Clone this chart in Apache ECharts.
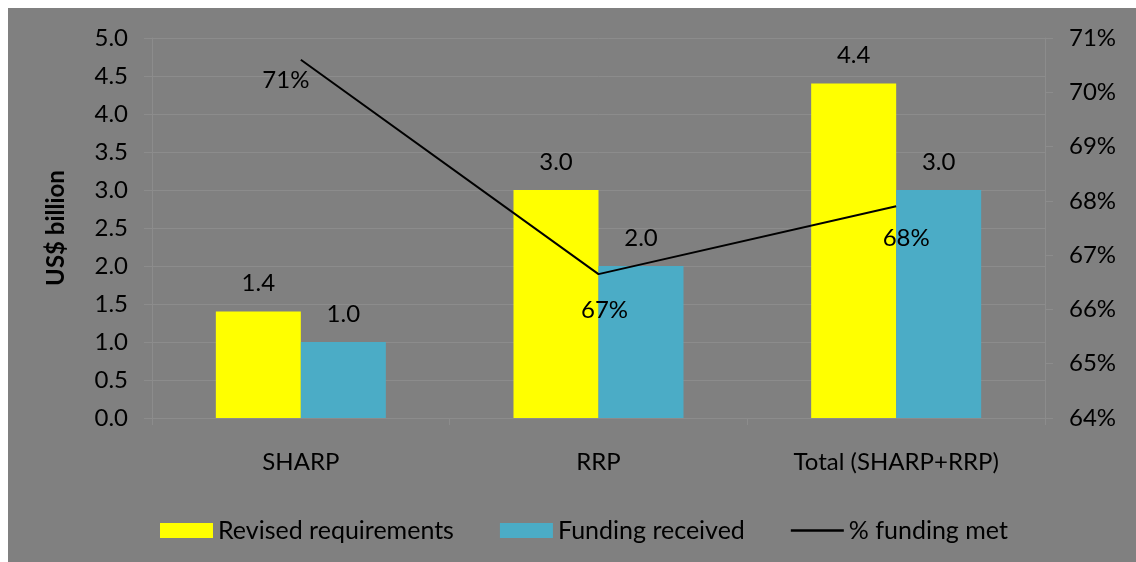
<!DOCTYPE html>
<html>
<head>
<meta charset="utf-8">
<script src="https://cdn.jsdelivr.net/npm/echarts@6/dist/echarts.min.js"></script>
<style>
  html, body { margin: 0; padding: 0; background: #ffffff; }
  #chart { position: absolute; left: 8px; top: 8px; width: 1128px; height: 554px; }
</style>
</head>
<body>
<div id="chart"></div>
<script>
// categories and values
const categories = ["SHARP", "RRP", "Total (SHARP+RRP)"];
const revisedRequirements = [1.4, 3.0, 4.4];
const fundingReceived = [1.0, 2.0, 3.0];
const fundingMetPct = [70.6, 66.65, 67.9];
const fundingMetLabels = ["71%", "67%", "68%"];
// where Excel put the % labels relative to each point
const pctLabelOffsets = [[-15, 21], [6, 36], [10, 32]];

const FONT = "Lato";
const FS = 24;
const gridColor = "#8c8c8c";

const chart = echarts.init(document.getElementById("chart"));

const option = {
  backgroundColor: "#808080",
  textStyle: { fontFamily: FONT, color: "#000" },
  grid: { left: 144, right: 91, top: 30, bottom: 144 },
  legend: {
    left: 147,
    top: 505,
    itemWidth: 53,
    itemHeight: 15,
    itemGap: 46,
    textStyle: { fontFamily: FONT, fontSize: 25, color: "#000" },
    data: [
      { name: "Revised requirements", icon: "rect" },
      { name: "Funding received", icon: "rect" },
      { name: "% funding met", icon: "path://M0,0 L53,0 L53,2.5 L0,2.5 Z", itemStyle: { color: "#000" } },
    ],
  },
  xAxis: {
    type: "category",
    data: categories,
    axisLine: { lineStyle: { color: gridColor } },
    axisTick: { show: true, length: 7, lineStyle: { color: gridColor } },
    axisLabel: { fontFamily: FONT, fontSize: FS, color: "#000", margin: 32 },
  },
  yAxis: [
    {
      type: "value",
      min: 0,
      max: 5,
      interval: 0.5,
      name: "US$ billion",
      nameLocation: "middle",
      nameGap: 84,
      nameTextStyle: { fontFamily: FONT, fontSize: FS, fontWeight: "bold", color: "#000" },
      axisLine: { show: true, lineStyle: { color: gridColor } },
      axisTick: { show: true, length: 8, lineStyle: { color: gridColor } },
      splitLine: { lineStyle: { color: gridColor, width: 1 } },
      axisLabel: {
        fontFamily: FONT,
        fontSize: FS,
        color: "#000",
        margin: 24,
        formatter: (v) => v.toFixed(1),
      },
    },
    {
      type: "value",
      min: 64,
      max: 71,
      interval: 1,
      position: "right",
      axisLine: { show: true, lineStyle: { color: gridColor } },
      axisTick: { show: true, length: 8, lineStyle: { color: gridColor } },
      splitLine: { show: false },
      axisLabel: {
        fontFamily: FONT,
        fontSize: FS,
        color: "#000",
        margin: 24,
        formatter: "{value}%",
      },
    },
  ],
  series: [
    {
      name: "Revised requirements",
      type: "bar",
      data: revisedRequirements,
      barWidth: 85,
      barGap: "0%",
      itemStyle: { color: "#ffff00" },
      label: {
        show: true,
        position: "top",
        distance: 16,
        fontFamily: FONT,
        fontSize: FS,
        color: "#000",
        formatter: (p) => p.value.toFixed(1),
      },
    },
    {
      name: "Funding received",
      type: "bar",
      data: fundingReceived,
      barWidth: 85,
      barGap: "0%",
      itemStyle: { color: "#4bacc6" },
      label: {
        show: true,
        position: "top",
        distance: 16,
        fontFamily: FONT,
        fontSize: FS,
        color: "#000",
        formatter: (p) => p.value.toFixed(1),
      },
    },
    {
      name: "% funding met",
      type: "line",
      yAxisIndex: 1,
      symbol: "circle",
      symbolSize: 0,
      showSymbol: true,
      lineStyle: { color: "#000", width: 2 },
      itemStyle: { color: "#000" },
      data: fundingMetPct.map((v, i) => ({
        value: v,
        label: {
          show: true,
          position: "inside",
          offset: pctLabelOffsets[i],
          fontFamily: FONT,
          fontSize: FS,
          color: "#000",
          formatter: fundingMetLabels[i],
        },
      })),
    },
  ],
};

chart.setOption(option);
</script>
</body>
</html>
